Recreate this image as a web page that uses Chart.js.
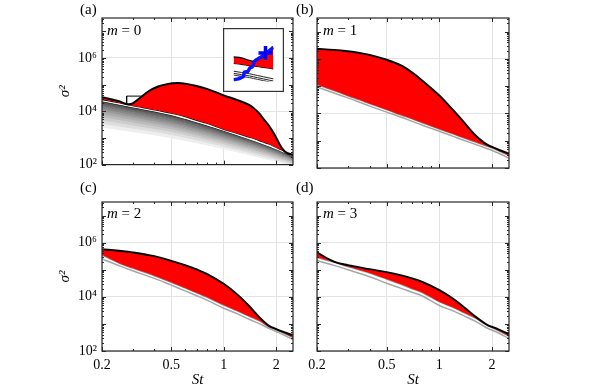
<!DOCTYPE html>
<html>
<head>
<title>sigma^2 vs St</title>
<script src="https://cdn.jsdelivr.net/npm/chart.js"></script>
<style>
  body { margin: 0; background: #fff; }
  #fig { position: relative; width: 598px; height: 389px; overflow: hidden; font-family: 'Liberation Serif', 'DejaVu Serif', serif; }
  canvas { position: absolute; }
  .lab { position: absolute; font-size: 15px; line-height: 15px; color: #000; white-space: nowrap; }
</style>
</head>
<body>
<div id="fig">
  <canvas id="pa" width="300" height="178" style="left:0px;top:0px"></canvas>
  <canvas id="pb" width="249" height="178" style="left:267px;top:0px"></canvas>
  <canvas id="pc" width="300" height="205" style="left:0px;top:184px"></canvas>
  <canvas id="pd" width="249" height="205" style="left:267px;top:184px"></canvas>
  <canvas id="inset" width="61" height="64" style="left:223px;top:28px"></canvas>
  <div class="lab" style="left:80px;top:2px">(a)</div>
  <div class="lab" style="left:296px;top:2px">(b)</div>
  <div class="lab" style="left:80px;top:180px">(c)</div>
  <div class="lab" style="left:296px;top:180px">(d)</div>
  <div class="lab" style="left:107px;top:23px"><i>m</i> = 0</div>
  <div class="lab" style="left:323px;top:23px"><i>m</i> = 1</div>
  <div class="lab" style="left:107px;top:206px"><i>m</i> = 2</div>
  <div class="lab" style="left:323px;top:206px"><i>m</i> = 3</div>
</div>
<script>
const FONT = "'Liberation Serif', 'DejaVu Serif', serif";

const xTicks = [0.2, 0.5, 1, 2];
const xTickLabels = ['0.2', '0.5', '1', '2'];
const xMinor = [0.3, 0.4, 0.6, 0.7, 0.8, 0.9];
const yTicks = [1e2, 1e4, 1e6];
const yTickLabels = ['10²', '10⁴', '10⁶'];

// all curves: log10(sigma^2)

// (a) m = 0
const stA = [0.2, 0.25, 0.28, 0.3, 0.33, 0.37, 0.42, 0.48, 0.54, 0.6, 0.7, 0.8, 1.0, 1.2, 1.4, 1.5, 1.6, 1.7, 1.8, 1.95, 2.1, 2.2, 2.3, 2.5];
const upperA = [4.53, 4.38, 4.27, 4.30, 4.50, 4.75, 4.93, 5.03, 5.06, 5.04, 4.95, 4.84, 4.60, 4.42, 4.24, 4.10, 3.92, 3.70, 3.50, 3.15, 2.75, 2.55, 2.45, 2.37];
const lowerA = [4.44, 4.32, 4.25, 4.21, 4.16, 4.10, 4.03, 3.95, 3.88, 3.80, 3.66, 3.55, 3.32, 3.17, 3.03, 2.97, 2.90, 2.84, 2.78, 2.68, 2.58, 2.52, 2.42, 2.34];
const stFan = [0.2, 0.3, 0.5, 1, 2, 2.5];
const fanA = [
  [4.40, 4.17, 3.88, 3.29, 2.60, 2.32],
  [4.37, 4.14, 3.85, 3.26, 2.58, 2.30],
  [4.31, 4.08, 3.79, 3.22, 2.56, 2.28],
  [4.25, 4.02, 3.73, 3.17, 2.53, 2.26],
  [4.18, 3.95, 3.66, 3.12, 2.49, 2.23],
  [4.10, 3.87, 3.59, 3.06, 2.45, 2.20],
  [4.01, 3.79, 3.51, 3.00, 2.41, 2.17],
  [3.91, 3.70, 3.43, 2.93, 2.36, 2.13],
  [3.80, 3.60, 3.34, 2.86, 2.31, 2.09],
  [3.68, 3.49, 3.24, 2.78, 2.25, 2.05],
  [3.55, 3.37, 3.13, 2.69, 2.19, 2.00],
  [3.41, 3.24, 3.01, 2.60, 2.12, 1.95]
];
const boxSt = [0.277, 0.342];
const boxLog = [4.08, 4.57];

// (b) m = 1
const stB = [0.2, 0.25, 0.3, 0.35, 0.4, 0.5, 0.6, 0.7, 0.8, 1.0, 1.2, 1.4, 1.6, 1.8, 1.97, 2.2, 2.5];
const upperB = [6.37, 6.33, 6.28, 6.22, 6.15, 5.97, 5.77, 5.50, 5.20, 4.66, 4.12, 3.64, 3.21, 2.93, 2.79, 2.66, 2.53];
const grayB1 = [5.06, 4.84, 4.65, 4.50, 4.36, 4.14, 3.95, 3.80, 3.66, 3.43, 3.25, 3.09, 2.96, 2.84, 2.75, 2.62, 2.46];
const grayB2 = [4.97, 4.75, 4.57, 4.41, 4.27, 4.05, 3.87, 3.71, 3.57, 3.35, 3.16, 3.00, 2.87, 2.75, 2.66, 2.53, 2.36];

// (c) m = 2
const stC = [0.2, 0.25, 0.3, 0.4, 0.5, 0.6, 0.7, 0.8, 1.0, 1.2, 1.4, 1.6, 1.8, 1.9, 2.1, 2.5];
const upperC = [5.76, 5.70, 5.64, 5.50, 5.33, 5.17, 5.01, 4.85, 4.48, 4.08, 3.66, 3.25, 2.95, 2.87, 2.75, 2.58];
const grayC1 = [5.55, 5.25, 5.06, 4.78, 4.54, 4.33, 4.15, 3.99, 3.70, 3.48, 3.28, 3.12, 2.91, 2.84, 2.73, 2.50];
const grayC2 = [5.40, 5.15, 4.96, 4.68, 4.43, 4.22, 4.04, 3.88, 3.58, 3.37, 3.17, 3.01, 2.85, 2.78, 2.66, 2.42];

// (d) m = 3
const stD = [0.2, 0.25, 0.3, 0.4, 0.5, 0.6, 0.7, 0.8, 1.0, 1.2, 1.4, 1.6, 1.8, 1.9, 2.1, 2.5];
const upperD = [5.64, 5.30, 5.17, 5.02, 4.91, 4.80, 4.68, 4.55, 4.25, 3.93, 3.59, 3.28, 3.04, 2.95, 2.84, 2.62];
const grayD1 = [5.46, 5.28, 5.12, 4.88, 4.66, 4.47, 4.30, 4.16, 3.82, 3.61, 3.40, 3.22, 3.01, 2.93, 2.80, 2.55];
const grayD2 = [5.34, 5.16, 5.00, 4.74, 4.50, 4.32, 4.17, 4.03, 3.68, 3.48, 3.28, 3.10, 2.91, 2.83, 2.71, 2.46];

// inset of (a), in fractions of the inset box (0..1, y upwards)
const insetX = [0, 0.2, 0.4, 0.5, 0.6, 0.75, 0.9, 1];
const insetTop = [0.57, 0.55, 0.49, 0.47, 0.50, 0.57, 0.67, 0.77];
const insetBot = [0.42, 0.40, 0.37, 0.36, 0.35, 0.33, 0.31, 0.29];
const insetL1 = [0.24, 0.21, 0.18, 0.16, 0.14, 0.11, 0.08, 0.06];
const insetL2 = [0.19, 0.16, 0.13, 0.11, 0.09, 0.06, 0.03, 0.01];
const insetL3 = [0.15, 0.12, 0.09, 0.07, 0.05, 0.02, -0.01, -0.03];
const blueX = [0, 0.12, 0.22, 0.25, 0.27, 0.35, 0.4, 0.43, 0.47, 0.5, 0.52, 0.55, 0.6, 0.7, 0.8, 0.9, 1];
const blueY = [0.04, 0.06, 0.10, 0.12, 0.22, 0.23, 0.30, 0.33, 0.34, 0.40, 0.46, 0.49, 0.52, 0.58, 0.65, 0.72, 0.80];
const crossX = [0.8];
const crossY = [0.66];

function pts(xs, logs) {
  return xs.map((x, i) => ({ x: x, y: Math.pow(10, logs[i]) }));
}
function lin(xs, ys) {
  return xs.map((x, i) => ({ x: x, y: ys[i] }));
}

const framePlugin = {
  id: 'frame',
  afterDatasetsDraw(chart) {
    const ctx = chart.ctx, a = chart.chartArea, sx = chart.scales.x, sy = chart.scales.y;
    ctx.save();
    ctx.strokeStyle = '#262626';
    ctx.lineWidth = 1;
    ctx.beginPath();
    const xt = (v, len) => {
      const p = Math.round(sx.getPixelForValue(v)) + 0.5;
      ctx.moveTo(p, a.bottom); ctx.lineTo(p, a.bottom - len);
      ctx.moveTo(p, a.top); ctx.lineTo(p, a.top + len);
    };
    const yt = (v, len) => {
      const p = Math.round(sy.getPixelForValue(v)) + 0.5;
      ctx.moveTo(a.left, p); ctx.lineTo(a.left + len, p);
      ctx.moveTo(a.right, p); ctx.lineTo(a.right - len, p);
    };
    xTicks.forEach(v => xt(v, 4));
    xMinor.forEach(v => xt(v, 2));
    for (let e = 2; e <= 7; e++) {
      for (let m = 1; m <= 9; m++) {
        const v = m * Math.pow(10, e);
        if (v <= sy.max) yt(v, m === 1 ? 4 : 2);
      }
    }
    ctx.stroke();
    ctx.lineWidth = 1.2;
    ctx.strokeRect(a.left, a.top, a.right - a.left, a.bottom - a.top);
    ctx.restore();
  }
};

function options(showX, showY, padLeft, padTop) {
  return {
    responsive: false,
    animation: false,
    events: [],
    layout: { padding: { left: padLeft, right: 7, top: padTop, bottom: 0 } },
    plugins: { legend: { display: false }, tooltip: { enabled: false } },
    elements: { point: { radius: 0 }, line: { tension: 0.35, borderWidth: 1.5 } },
    scales: {
      x: {
        type: 'logarithmic', min: 0.2, max: 2.5,
        afterBuildTicks: s => { s.ticks = xTicks.map(v => ({ value: v })); },
        afterFit: s => { s.height = showX ? 38 : 10; },
        ticks: {
          display: showX, autoSkip: false, maxRotation: 0, padding: 6, color: '#000',
          font: { family: FONT, size: 14 },
          callback: v => xTickLabels[xTicks.indexOf(v)]
        },
        grid: { color: '#e3e3e3', drawTicks: false },
        border: { display: false },
        title: { display: showX, text: 'St', color: '#000', padding: { top: 2, bottom: 0 },
          font: { family: FONT, size: 15, style: 'italic' } }
      },
      y: {
        type: 'logarithmic', min: 100, max: Math.pow(10, 7.5),
        afterBuildTicks: s => { s.ticks = yTicks.map(v => ({ value: v })); },
        afterFit: s => { s.width = 50; },
        ticks: {
          display: showY, padding: 5, color: '#000',
          font: { family: FONT, size: 14 },
          callback: v => yTickLabels[yTicks.indexOf(v)]
        },
        grid: { color: '#e3e3e3', drawTicks: false },
        border: { display: false },
        title: { display: showY, text: 'σ²', color: '#000', padding: { top: 4, bottom: 0 },
          font: { family: FONT, size: 15, style: 'italic' } }
      }
    }
  };
}

function blackLine(xs, logs, fillColor) {
  return {
    data: pts(xs, logs), borderColor: '#000', borderWidth: 1.9,
    fill: fillColor ? '+1' : false, backgroundColor: fillColor || 'transparent'
  };
}
function grayLine(xs, logs, color) {
  return { data: pts(xs, logs), borderColor: color, borderWidth: 1.5, fill: false };
}

// panel (a)
const dsA = [
  blackLine(stA, upperA, '#ff0000'),
  { data: pts(stA, lowerA), borderColor: '#111', borderWidth: 1.2, fill: false },
  { data: pts(stFan, fanA[0]), borderColor: '#fff', borderWidth: 1.2, fill: false, cubicInterpolationMode: 'monotone' },
  { data: pts(stFan, fanA[1]), borderColor: '#1e1e1e', borderWidth: 1, fill: false, cubicInterpolationMode: 'monotone' }
];
for (let i = 2; i < fanA.length; i++) {
  const g = Math.round(85 + (i - 2) * 17);
  const c = 'rgb(' + g + ',' + g + ',' + g + ')';
  dsA.push({ data: pts(stFan, fanA[i]), borderColor: c, borderWidth: 1, fill: '-1', backgroundColor: c, cubicInterpolationMode: 'monotone' });
}
dsA.push({
  data: pts([boxSt[0], boxSt[1], boxSt[1], boxSt[0], boxSt[0]], [boxLog[0], boxLog[0], boxLog[1], boxLog[1], boxLog[0]]),
  borderColor: '#000', borderWidth: 1, fill: false, tension: 0
});
new Chart(document.getElementById('pa'), {
  type: 'line', data: { datasets: dsA }, options: options(false, true, 52, 18), plugins: [framePlugin]
});

// panel (b)
new Chart(document.getElementById('pb'), {
  type: 'line',
  data: { datasets: [
    blackLine(stB, upperB, '#ff0000'),
    grayLine(stB, grayB1, '#8a8a8a'),
    grayLine(stB, grayB2, '#a6a6a6')
  ] },
  options: options(false, false, 0, 18), plugins: [framePlugin]
});

// panel (c)
new Chart(document.getElementById('pc'), {
  type: 'line',
  data: { datasets: [
    blackLine(stC, upperC, '#ff0000'),
    grayLine(stC, grayC1, '#8a8a8a'),
    grayLine(stC, grayC2, '#a6a6a6')
  ] },
  options: options(true, true, 52, 18), plugins: [framePlugin]
});

// panel (d)
new Chart(document.getElementById('pd'), {
  type: 'line',
  data: { datasets: [
    blackLine(stD, upperD, '#ff0000'),
    grayLine(stD, grayD1, '#8a8a8a'),
    grayLine(stD, grayD2, '#a6a6a6')
  ] },
  options: options(true, false, 0, 18), plugins: [framePlugin]
});

// inset of (a)
const insetPlugin = {
  id: 'insetFrame',
  beforeDraw(chart) {
    const ctx = chart.ctx;
    ctx.save(); ctx.fillStyle = '#fff'; ctx.fillRect(0, 0, chart.width, chart.height); ctx.restore();
  },
  afterDraw(chart) {
    const ctx = chart.ctx;
    ctx.save(); ctx.strokeStyle = '#333'; ctx.lineWidth = 1.2;
    ctx.strokeRect(0.6, 0.6, chart.width - 1.2, chart.height - 1.2); ctx.restore();
  }
};
new Chart(document.getElementById('inset'), {
  type: 'line',
  data: { datasets: [
    { data: lin(crossX, crossY), showLine: false, pointStyle: 'cross', pointRadius: 7, borderColor: '#0000ff', borderWidth: 3.5 },
    { data: lin(blueX, blueY), borderColor: '#0a14ff', borderWidth: 3.5, fill: false, tension: 0 },
    { data: lin(insetX, insetTop), borderColor: '#000', borderWidth: 1.3, fill: '+1', backgroundColor: '#ff0000' },
    { data: lin(insetX, insetBot), borderColor: '#000', borderWidth: 1.3, fill: false },
    { data: lin(insetX, insetL1), borderColor: '#222', borderWidth: 1, fill: false },
    { data: lin(insetX, insetL2), borderColor: '#222', borderWidth: 1, fill: false },
    { data: lin(insetX, insetL3), borderColor: '#333', borderWidth: 1, fill: false }
  ] },
  options: {
    responsive: false, animation: false, events: [],
    layout: { padding: 0 },
    plugins: { legend: { display: false }, tooltip: { enabled: false } },
    elements: { point: { radius: 0 }, line: { cubicInterpolationMode: 'monotone' } },
    scales: {
      x: { type: 'linear', min: 0, max: 1, display: false },
      y: { type: 'linear', min: 0, max: 1, display: false }
    }
  },
  plugins: [insetPlugin]
});
</script>
</body>
</html>
